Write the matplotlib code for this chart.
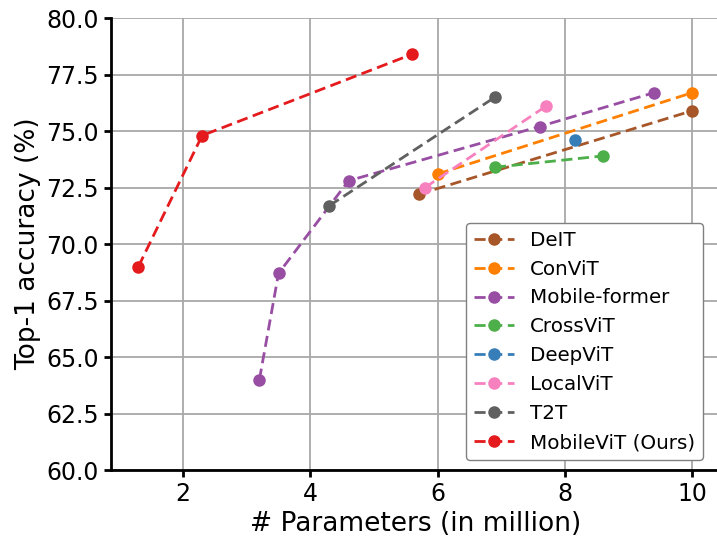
import matplotlib
matplotlib.use("Agg")
import matplotlib.pyplot as plt

labels = ["DeIT", "ConViT", "Mobile-former", "CrossViT", "DeepViT", "LocalViT", "T2T", "MobileViT (Ours)"]
colors = ["#a65628", "#ff7f00", "#984ea3", "#4daf4a", "#377eb8", "#f781bf", "#606060", "#e41a1c"]

deit_x = [5.7, 10.0]
deit_y = [72.2, 75.9]
convit_x = [6.0, 10.0]
convit_y = [73.1, 76.7]
mobileformer_x = [3.2, 3.5, 4.6, 7.6, 9.4]
mobileformer_y = [64.0, 68.7, 72.8, 75.2, 76.7]
crossvit_x = [6.9, 8.6]
crossvit_y = [73.4, 73.9]
deepvit_x = [8.15]
deepvit_y = [74.6]
localvit_x = [5.8, 7.7]
localvit_y = [72.5, 76.1]
t2t_x = [4.3, 6.9]
t2t_y = [71.7, 76.5]
mobilevit_x = [1.3, 2.3, 5.6]
mobilevit_y = [69.0, 74.8, 78.4]

series = [(deit_x, deit_y), (convit_x, convit_y), (mobileformer_x, mobileformer_y),
          (crossvit_x, crossvit_y), (deepvit_x, deepvit_y), (localvit_x, localvit_y),
          (t2t_x, t2t_y), (mobilevit_x, mobilevit_y)]

fig = plt.figure(figsize=(7.17, 5.4), dpi=100)
ax = fig.add_axes([0.1544, 0.1296, 0.85, 0.837])

for (x, y), lab, c in zip(series, labels, colors):
    ax.plot(x, y, linestyle="--", marker="o", color=c, linewidth=2, markersize=8,
            dashes=(4, 2), label=lab)

ax.set_xlim(0.865, 10.435)
ax.set_ylim(60, 80)
ax.set_yticks([60, 62.5, 65, 67.5, 70, 72.5, 75, 77.5, 80])
ax.set_yticklabels(["60.0", "62.5", "65.0", "67.5", "70.0", "72.5", "75.0", "77.5", "80.0"])
ax.set_xticks([2, 4, 6, 8, 10])
ax.grid(True, color="#a8a8a8", linewidth=1.3)
ax.set_axisbelow(True)
for s in ["top", "right"]:
    ax.spines[s].set_visible(False)
for s in ["left", "bottom"]:
    ax.spines[s].set_linewidth(2)
ax.tick_params(labelsize=17, width=2, length=5)
ax.set_xlabel("# Parameters (in million)", fontsize=19)
ax.set_ylabel("Top-1 accuracy (%)", fontsize=19)
ax.legend(loc="lower right", fontsize=14.3, framealpha=1, edgecolor="#808080",
          bbox_to_anchor=(0.988, 0.0))

fig.savefig("out.png", dpi=100)
